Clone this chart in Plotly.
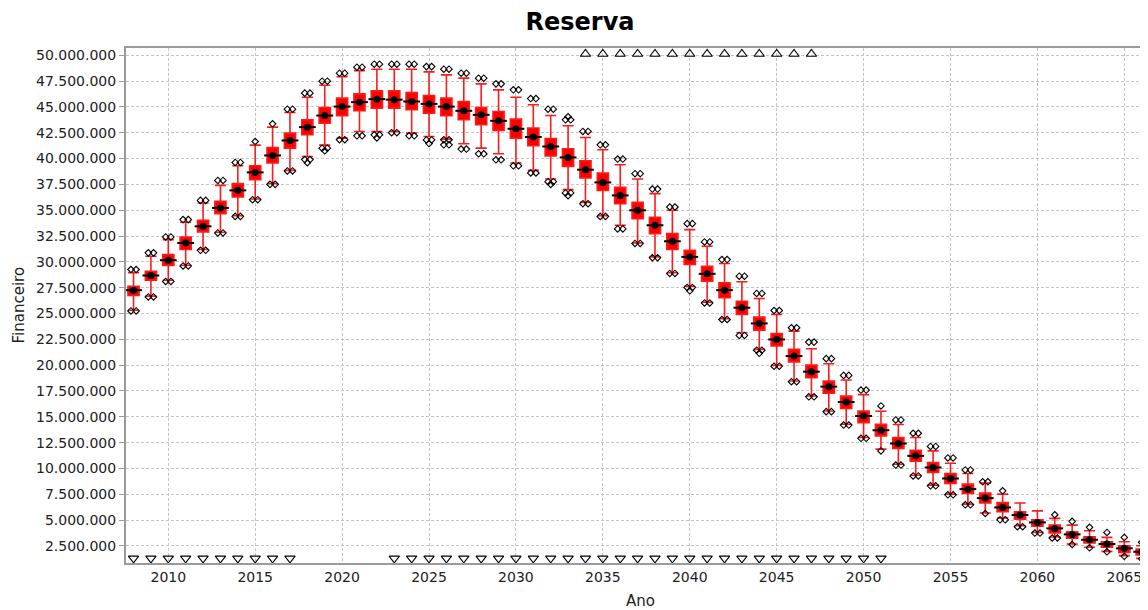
import plotly.graph_objects as go

# ---------------- data (values in millions) ----------------
years = list(range(2008, 2067))

medians = [27.26, 28.68, 30.16, 31.83, 33.44, 35.22, 36.92, 38.66, 40.30, 41.75,
           43.04, 44.16, 45.03, 45.46, 45.75, 45.70, 45.52, 45.29, 45.03, 44.62,
           44.23, 43.65, 42.88, 42.08, 41.17, 40.11, 38.92, 37.69, 36.43, 34.99,
           33.54, 31.99, 30.48, 28.84, 27.26, 25.56, 24.04, 22.49, 20.88, 19.37,
           17.92, 16.43, 15.08, 13.70, 12.42, 11.22, 10.10, 9.03, 8.00, 7.13,
           6.23, 5.49, 4.78, 4.20, 3.62, 3.10, 2.69, 2.27, 1.94]

means = [27.26, 28.68, 30.16, 31.83, 33.44, 35.22, 36.92, 38.66, 40.30, 41.75,
         43.04, 44.16, 45.03, 45.46, 45.75, 45.70, 45.52, 45.29, 45.03, 44.62,
         44.23, 43.65, 42.88, 42.08, 41.17, 40.11, 38.92, 37.69, 36.43, 34.99,
         33.54, 31.99, 30.48, 28.84, 27.26, 25.56, 24.04, 22.49, 20.88, 19.37,
         17.92, 16.43, 15.08, 13.70, 12.42, 11.22, 10.10, 9.03, 8.00, 7.13,
         6.23, 5.49, 4.78, 4.20, 3.62, 3.10, 2.69, 2.27, 1.94]

q3 = [27.64, 29.09, 30.70, 32.41, 34.02, 35.86, 37.57, 39.30, 41.07, 42.46,
      43.75, 44.94, 45.85, 46.26, 46.55, 46.55, 46.39, 46.10, 45.85, 45.52,
      44.94, 44.55, 43.82, 42.95, 41.94, 40.95, 39.79, 38.60, 37.21, 35.76,
      34.31, 32.73, 31.12, 29.57, 27.97, 26.19, 24.65, 23.07, 21.53, 20.01,
      18.46, 17.01, 15.57, 14.28, 13.00, 11.77, 10.58, 9.52, 8.48, 7.62,
      6.71, 5.81, 5.03, 4.52, 3.87, 3.39, 2.91, 2.52, 2.20]

q1 = [26.74, 28.22, 29.64, 31.19, 32.90, 34.67, 36.28, 37.96, 39.57, 41.01,
      42.30, 43.43, 44.14, 44.62, 44.88, 44.88, 44.72, 44.40, 44.14, 43.75,
      43.27, 42.71, 41.98, 41.24, 40.24, 39.24, 38.12, 36.92, 35.63, 34.18,
      32.73, 31.19, 29.74, 28.13, 26.52, 24.91, 23.39, 21.85, 20.30, 18.79,
      17.28, 15.80, 14.44, 13.15, 11.93, 10.70, 9.61, 8.55, 7.58, 6.66,
      5.81, 5.10, 4.40, 3.75, 3.24, 2.78, 2.37, 1.88, 1.62]

whisker_hi = [28.94, 30.54, 32.15, 33.83, 35.70, 37.40, 39.30, 41.30, 43.04, 44.45,
              45.94, 47.10, 47.93, 48.51, 48.65, 48.65, 48.65, 48.39, 48.10, 47.78,
              47.23, 46.65, 45.94, 45.20, 44.16, 43.17, 42.04, 40.85, 39.40, 38.02,
              36.60, 34.99, 33.12, 31.51, 29.84, 28.07, 26.45, 24.91, 23.29, 21.59,
              20.14, 18.56, 17.15, 15.54, 14.25, 13.00, 11.70, 10.51, 9.52, 8.58,
              7.52, 6.66, 5.90, 5.17, 4.52, 3.97, 3.33, 2.91, 2.52]

whisker_lo = [25.32, 26.68, 28.22, 29.67, 31.19, 32.86, 34.47, 36.09, 37.57, 38.85,
              40.20, 41.30, 41.98, 42.62, 42.62, 42.62, 42.46, 42.14, 41.88, 41.43,
              41.01, 40.46, 39.57, 38.85, 38.02, 36.99, 35.76, 34.47, 33.54, 31.84,
              30.48, 28.94, 27.64, 26.10, 24.49, 23.14, 21.53, 19.98, 18.46, 17.01,
              15.57, 14.28, 13.00, 11.87, 10.41, 9.35, 8.39, 7.52, 6.55, 5.69,
              5.21, 4.45, 3.81, 3.36, 2.69, 2.37, 1.98, 1.56, 1.30]

outliers_hi = [
    [29.26, 29.26], [30.87, 30.87], [32.41, 32.41], [34.09, 34.09], [35.95, 35.95],
    [37.88, 37.88], [39.62, 39.62], [41.65], [43.36], [44.78, 44.78],
    [46.33, 46.33], [47.49, 47.49], [48.26, 48.26], [48.84, 48.84], [49.13, 49.13],
    [49.13, 49.13], [49.13, 49.13], [48.90, 48.90], [48.65, 48.65], [48.26, 48.26],
    [47.78, 47.78], [47.23, 47.23], [46.65, 46.65], [45.81, 45.81], [44.78, 44.78],
    [43.75, 43.75, 44.04], [42.62, 42.62], [41.33, 41.33], [39.95, 39.95], [38.53, 38.53],
    [37.05, 37.05], [35.31, 35.31], [33.70, 33.70], [31.93, 31.93], [30.22, 30.22],
    [28.61, 28.61], [26.94, 26.94], [25.29, 25.29], [23.62, 23.62], [22.23, 22.23],
    [20.63, 20.63], [19.01, 19.01], [17.59, 17.59], [16.05], [14.70, 14.70],
    [13.41, 13.41], [12.13, 12.13], [11.02, 11.02], [9.86, 9.86], [8.71, 8.71],
    [7.84], [], [], [5.52], [4.88],
    [4.30], [3.81], [3.33], [2.85]]

outliers_lo = [
    [25.25, 25.25], [26.60, 26.60], [28.10, 28.10], [29.60, 29.60], [31.12, 31.12],
    [32.80, 32.80], [34.40, 34.40], [36.02, 36.02], [37.50, 37.50], [38.80, 38.80],
    [39.90, 39.90, 39.60], [41.00, 41.00, 40.75], [41.82, 41.82], [42.20, 42.20], [42.30, 42.30, 42.00],
    [42.50, 42.50], [42.20, 42.20], [41.80, 41.80, 41.45], [41.82, 41.82, 41.33, 41.33], [40.92, 40.92],
    [40.46, 40.46], [39.88, 39.88], [39.30, 39.30], [38.60, 38.60], [37.76, 37.76, 37.50],
    [36.67, 36.67, 36.40], [35.63, 35.63], [34.40, 34.40], [33.19, 33.19], [31.78, 31.78],
    [30.40, 30.40], [28.88, 28.88], [27.52, 27.52, 27.20], [26.02, 26.02], [24.42, 24.42],
    [22.88, 22.88], [21.45, 21.45, 21.15], [19.90, 19.90], [18.40, 18.40], [16.94, 16.94],
    [15.50, 15.50], [14.20, 14.20], [12.92, 12.92], [11.70], [10.33, 10.33],
    [9.28, 9.28], [8.32, 8.32], [7.45, 7.45], [6.48, 6.48], [5.64],
    [5.03, 5.03], [4.36, 4.36], [3.75, 3.75], [3.27, 3.27], [2.64],
    [2.32], [1.93], [1.50], [1.25]]

far_above_years = list(range(2034, 2048))
far_below_years = list(range(2008, 2018)) + list(range(2023, 2052))

y_tick_values = [2.5 * k for k in range(1, 21)]
x_tick_values = list(range(2010, 2066, 5))

title_text = "Reserva"
x_title = "Ano"
y_title = "Financeiro"

# ---------------- build ----------------
M = 1e6
Y_MIN, Y_MAX = 0.85 * M, 50.7 * M
X_MIN, X_MAX = 2007.567, 2066.363

# the page body has an 8px default margin: size/offset the figure to compensate
OFF = 8
FIG_W, FIG_H = 1148 - OFF, 610 - OFF
ML, MT, MB, MR = 126 - OFF, 48 - OFF, 47, 0


def mm(a):
    return [v * M for v in a]


fig = go.Figure()

fig.add_trace(go.Box(
    x=years, q1=mm(q1), median=mm(medians), q3=mm(q3),
    lowerfence=mm(whisker_lo), upperfence=mm(whisker_hi),
    fillcolor="#ff0000", line=dict(color="#ff1a1a", width=1.6),
    whiskerwidth=1, width=0.64, boxpoints=False, hoverinfo="skip",
    showlegend=False))

# median line (black)
fig.add_trace(go.Scatter(
    x=years, y=mm(medians), mode="markers", hoverinfo="skip", showlegend=False,
    marker=dict(symbol="line-ew", size=12, line=dict(color="black", width=2))))

# mean marker (black)
fig.add_trace(go.Scatter(
    x=years, y=mm(means), mode="markers", hoverinfo="skip", showlegend=False,
    marker=dict(symbol="circle", size=7, color="black")))

# outliers, overlapping ones laid side by side
ox, oy = [], []
for yr, hi, lo in zip(years, outliers_hi, outliers_lo):
    for group in (hi, lo):
        vals = sorted(set(group))
        for v in vals:
            n = group.count(v)
            for i in range(n):
                ox.append(yr + (i - (n - 1) / 2) * 0.3)
                oy.append(v * M)
fig.add_trace(go.Scatter(
    x=ox, y=oy, mode="markers", hoverinfo="skip", showlegend=False,
    marker=dict(symbol="diamond-open", size=5, color="black", line=dict(width=1.1))))

# far-out indicators
fig.add_trace(go.Scatter(
    x=far_above_years, y=[Y_MAX - 0.58 * M] * len(far_above_years),
    mode="markers", hoverinfo="skip", showlegend=False, cliponaxis=False,
    marker=dict(symbol="triangle-up-open", size=9, color="black", line=dict(width=1.1))))
fig.add_trace(go.Scatter(
    x=far_below_years, y=[Y_MIN + 0.45 * M] * len(far_below_years),
    mode="markers", hoverinfo="skip", showlegend=False, cliponaxis=False,
    marker=dict(symbol="triangle-down-open", size=9, color="black", line=dict(width=1.1))))

FONT = "DejaVu Sans"
fig.update_layout(
    width=FIG_W, height=FIG_H,
    margin=dict(l=ML, r=MR, t=MT, b=MB, autoexpand=False),
    paper_bgcolor="white", plot_bgcolor="white",
    font=dict(family=FONT, size=14, color="#222222"),
    title=dict(text="<b>" + title_text + "</b>", x=(580 - OFF) / FIG_W,
               y=1 - (22 - OFF) / FIG_H,
               xanchor="center", yanchor="middle",
               font=dict(family=FONT, size=24, color="black")),
    showlegend=False,
)
fig.update_xaxes(
    range=[X_MIN, X_MAX], tickmode="array", tickvals=x_tick_values,
    ticktext=[str(v) for v in x_tick_values],
    showgrid=True, gridcolor="#c4c4c4", griddash="3px,2px", gridwidth=1,
    showline=True, linecolor="#9a9a9a", linewidth=2, mirror=True,
    ticks="", zeroline=False, tickfont=dict(size=14, color="#222222"))
fig.update_yaxes(
    range=[Y_MIN, Y_MAX], tickmode="array", tickvals=mm(y_tick_values),
    ticktext=[f"{int(v * M):,}".replace(",", ".") for v in y_tick_values],
    showgrid=True, gridcolor="#c4c4c4", griddash="3px,2px", gridwidth=1,
    showline=True, linecolor="#9a9a9a", linewidth=2, mirror=True,
    ticks="outside", ticklen=5, tickcolor="#9a9a9a",
    zeroline=False, tickfont=dict(size=14, color="#222222"))

plot_w = FIG_W - ML - MR
plot_h = FIG_H - MT - MB
fig.add_annotation(text=y_title, textangle=-90, xref="paper", yref="paper",
                   x=(18 - 126) / plot_w, y=0.5, xanchor="center", yanchor="middle",
                   showarrow=False, font=dict(family=FONT, size=15, color="#222222"))
fig.add_annotation(text=x_title, xref="paper", yref="paper",
                   x=(640 - 126) / plot_w, y=(563 - 601) / plot_h,
                   xanchor="center", yanchor="middle",
                   showarrow=False, font=dict(family=FONT, size=15, color="#222222"))

fig.write_html("out.html")
